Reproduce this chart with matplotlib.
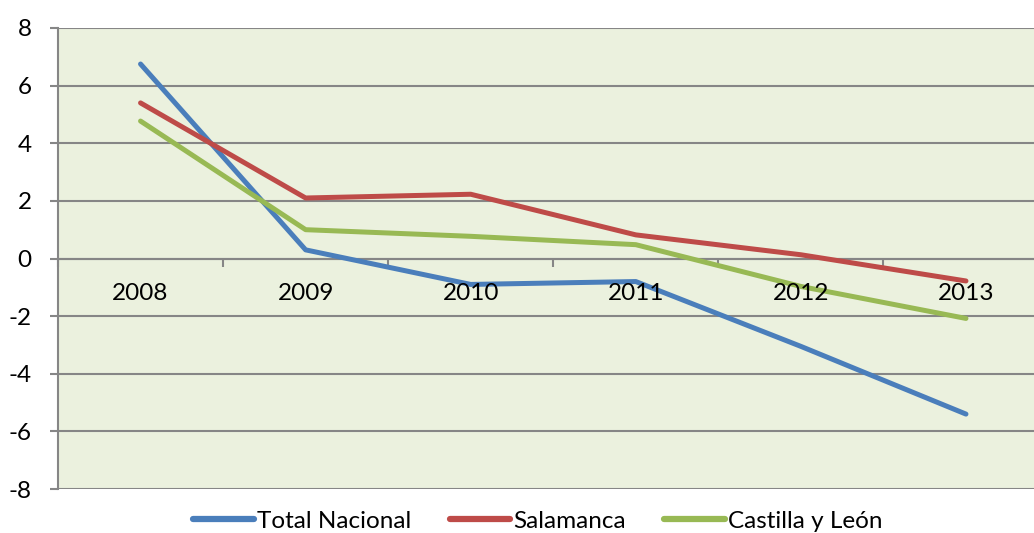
import numpy as np
import matplotlib.pyplot as plt

years = ['2008', '2009', '2010', '2011', '2012', '2013']
total_nacional = [6.75, 0.3, -0.9, -0.8, -3.05, -5.4]
salamanca = [5.4, 2.1, 2.23, 0.82, 0.13, -0.78]
castilla_leon = [4.77, 1.0, 0.77, 0.48, -0.97, -2.08]

plt.rcParams['font.family'] = ['Lato', 'DejaVu Sans']
plt.rcParams['axes.unicode_minus'] = False

fig = plt.figure(figsize=(10.34, 5.33), dpi=100)
ax = fig.add_axes([58 / 1034, 44 / 533, 990.5 / 1034, 461 / 533])
ax.set_facecolor('#EBF1DE')

x = np.arange(len(years))
ax.plot(x, total_nacional, color='#4A7EBB', lw=3.6, solid_capstyle='round', label='Total Nacional', zorder=3)
ax.plot(x, salamanca, color='#BE4B48', lw=3.6, solid_capstyle='round', label='Salamanca', zorder=3)
ax.plot(x, castilla_leon, color='#98B954', lw=3.6, solid_capstyle='round', label='Castilla y León', zorder=3)

ax.set_xlim(-0.5, len(years) - 0.5)
ax.set_ylim(-8, 8)
ax.set_yticks(range(-8, 9, 2))
ax.grid(axis='y', color='#868686', lw=1.5, zorder=1)
ax.set_axisbelow(True)

for s in ['top', 'right']:
    ax.spines[s].set_visible(False)
ax.spines['left'].set_color('#868686')
ax.spines['left'].set_linewidth(1.5)
ax.spines['bottom'].set_position(('data', 0))
ax.spines['bottom'].set_color('#868686')
ax.spines['bottom'].set_linewidth(1.5)

# category labels drawn on top of the lines, like the original
ax.set_xticks(x)
ax.set_xticklabels([])
for xi, yr in zip(x, years):
    ax.annotate(yr, (xi, 0), xytext=(0, -25), textcoords='offset points',
                ha='center', va='center', fontsize=17.5, zorder=5)
ax.set_xticks(np.arange(-0.5, len(years)), minor=True)
ax.tick_params(axis='x', which='major', length=0)
ax.tick_params(axis='x', which='minor', length=6, width=1.5, color='#868686', direction='out')
ax.tick_params(axis='y', length=6, width=1.5, color='#868686', pad=13, labelsize=17.5)

leg = fig.legend(loc='center', bbox_to_anchor=(0.52, 0.022), ncol=3, frameon=False,
                 fontsize=17.5, handlelength=2.5, handletextpad=0.1, columnspacing=1.6)
for line in leg.get_lines():
    line.set_linewidth(4.5)

fig.savefig('out.png', dpi=100)
